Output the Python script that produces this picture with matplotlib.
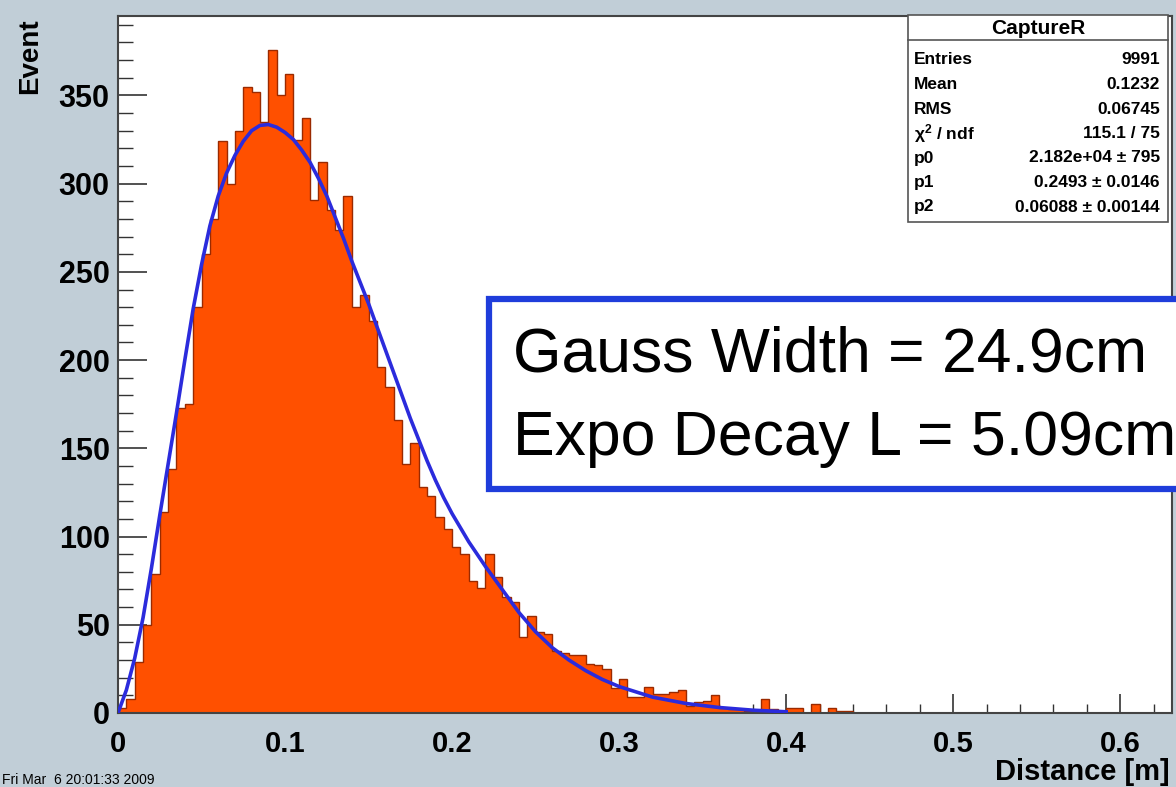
"""Capture distance histogram with fitted curve, ROOT-style canvas."""

import numpy as np
import matplotlib

matplotlib.use("Agg")
import matplotlib.pyplot as plt
from matplotlib.lines import Line2D
from matplotlib.patches import Rectangle
from matplotlib.ticker import FuncFormatter, MultipleLocator

plt.rcParams["font.family"] = ["Liberation Sans", "DejaVu Sans"]
plt.rcParams["font.weight"] = "bold"
plt.rcParams["mathtext.default"] = "regular"

# histogram contents, bins of 0.005 m starting at 0
BIN_WIDTH = 0.005
counts = [
    3, 8, 29, 50, 79, 114, 138, 173, 175, 230,
    260, 280, 324, 300, 330, 355, 352, 335, 376, 350,
    362, 325, 337, 291, 312, 285, 274, 293, 230, 237,
    222, 196, 185, 166, 141, 153, 128, 123, 111, 104,
    94, 90, 75, 71, 90, 77, 66, 63, 43, 55,
    46, 45, 35, 34, 33, 33, 28, 27, 25, 14,
    19, 9, 9, 15, 11, 11, 12, 13, 4, 6,
    7, 10, 3, 2, 2, 1, 1, 8, 2, 0,
    3, 3, 0, 5, 0, 3, 1, 1,
]

# fit curve
fit_x = [0.000, 0.005, 0.010, 0.015, 0.020, 0.025, 0.030, 0.035, 0.040, 0.045,
         0.050, 0.055, 0.060, 0.065, 0.070, 0.075, 0.080, 0.085, 0.090, 0.095,
         0.100, 0.105, 0.110, 0.115, 0.120, 0.125, 0.130, 0.135, 0.140, 0.145,
         0.150, 0.155, 0.160, 0.165, 0.170, 0.175, 0.180, 0.185, 0.190, 0.195,
         0.200, 0.210, 0.220, 0.230, 0.240, 0.250, 0.260, 0.270, 0.280, 0.290,
         0.300, 0.320, 0.340, 0.360, 0.380, 0.400]
fit_y = [0, 13, 31, 54, 82, 112, 141, 170, 200, 229,
         254, 276, 293, 306, 316, 324, 330, 333, 333.5, 332,
         329, 325, 319, 312, 303, 293, 281, 269, 256, 244,
         232, 219, 206, 193, 180, 167, 155, 143, 132, 122,
         113, 97, 83, 70, 57, 46, 37, 30, 24, 19,
         15, 9, 5.4, 3.1, 1.6, 0.7]

stats_title = "CaptureR"
stats_labels = ["Entries", "Mean", "RMS", r"$\chi^{2}$ / ndf", "p0", "p1", "p2"]
stats_values = ["9991", "0.1232", "0.06745", "115.1 / 75",
                "2.182e+04 \u00b1 795", "0.2493 \u00b1 0.0146",
                "0.06088 \u00b1 0.00144"]
note_lines = ["Gauss Width = 24.9cm", "Expo Decay L = 5.09cm"]

W, H = 1176, 787


def fx(px):
    return px / W


def fy(py):
    return 1 - py / H


fig = plt.figure(figsize=(W / 100, H / 100), dpi=100, facecolor="#c1ced7")
ax = fig.add_axes([fx(118), fy(713), (1172 - 118) / W, (713 - 16) / H])
ax.set_facecolor("white")

edges = np.arange(len(counts) + 1) * BIN_WIDTH
ax.stairs(counts, edges, fill=True, color="#ff5000", zorder=2)
ax.stairs(counts, edges, color="#9a2a00", linewidth=1.0, zorder=2.5)
ax.plot(fit_x, fit_y, color="#2b2bdc", linewidth=2.6, zorder=3)

ax.set_xlim(0, 0.631)
ax.set_ylim(0, 395)
ax.xaxis.set_major_locator(MultipleLocator(0.1))
ax.xaxis.set_minor_locator(MultipleLocator(0.02))
ax.yaxis.set_major_locator(MultipleLocator(50))
ax.yaxis.set_minor_locator(MultipleLocator(10))
ax.xaxis.set_major_formatter(FuncFormatter(lambda v, p: "0" if abs(v) < 1e-9 else f"{v:g}"))

ax.tick_params(which="both", direction="in", top=False, right=False,
               color="#333333", labelcolor="black")
ax.tick_params(axis="x", which="major", length=14, width=1.2, pad=12, labelsize=21)
ax.tick_params(axis="x", which="minor", length=6.5, width=1.0)
ax.tick_params(axis="y", which="major", length=21, width=1.2, pad=6, labelsize=22)
ax.tick_params(axis="y", which="minor", length=11, width=1.0)
for sp in ax.spines.values():
    sp.set_linewidth(1.5)
    sp.set_color("#444444")

fig.text(fx(30), fy(18), "Event", rotation=90, ha="center", va="top", fontsize=20)
fig.text(fx(1170), fy(772), "Distance [m]", ha="right", va="center", fontsize=21)
fig.text(fx(2), fy(773), "Fri Mar  6 20:01:33 2009", ha="left", va="top",
         fontsize=10, fontweight="normal")

# stats box
fig.add_artist(Rectangle((fx(908), fy(222)), (1168 - 908) / W, (222 - 15) / H,
                         transform=fig.transFigure, facecolor="white",
                         edgecolor="#555555", linewidth=1.2, zorder=5))
fig.add_artist(Line2D([fx(908), fx(1168)], [fy(40), fy(40)],
                      transform=fig.transFigure, color="#555555",
                      linewidth=1.2, zorder=6))
fig.text(fx(1038), fy(28), stats_title, ha="center", va="center",
         fontsize=15, zorder=7)
for i, (lab, val) in enumerate(zip(stats_labels, stats_values)):
    yy = fy(60 + 24.5 * i)
    fig.text(fx(914), yy, lab, ha="left", va="center", fontsize=12.5, zorder=7)
    fig.text(fx(1160), yy, val, ha="right", va="center", fontsize=12.5, zorder=7)

# blue annotation box
fig.add_artist(Rectangle((fx(489), fy(489)), (1200 - 489) / W, (489 - 299) / H,
                         transform=fig.transFigure, facecolor="white",
                         edgecolor="#1f3ddb", linewidth=4.5, zorder=5))
for line, base in zip(note_lines, [372, 455]):
    fig.text(fx(513), fy(base), line, ha="left", va="baseline",
             fontsize=45, fontweight="normal", color="black", zorder=7)

fig.savefig("out.png", dpi=100, facecolor=fig.get_facecolor())
